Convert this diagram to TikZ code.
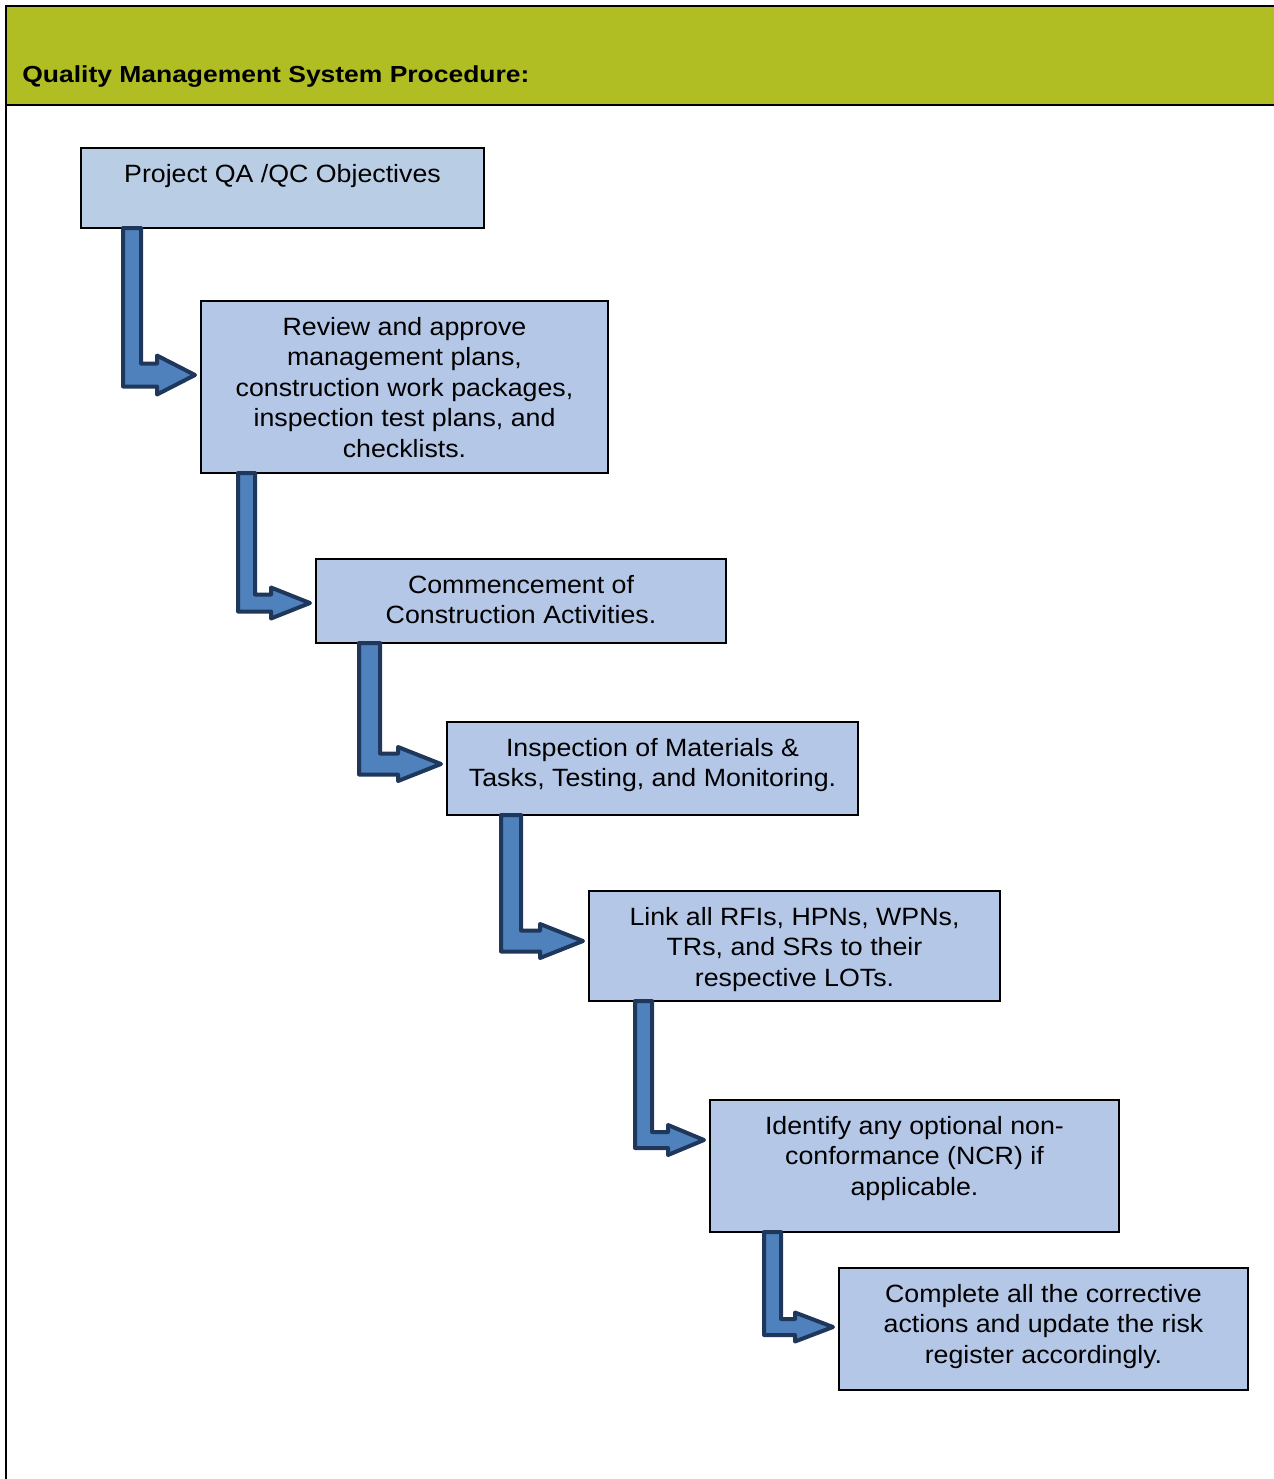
\documentclass[tikz,border=0pt]{standalone}
\usepackage{fontspec}
\setmainfont{Liberation Sans}
\newfontfamily\bodyfont[FakeStretch=1.07]{Liberation Sans}
\newfontfamily\headfont[FakeStretch=1.14]{Liberation Sans}
\usetikzlibrary{calc}

\definecolor{headergreen}{RGB}{176,189,35}
\definecolor{boxblue}{RGB}{180,199,231}
\definecolor{boxblueA}{RGB}{185,205,228}
\definecolor{arrowfill}{RGB}{79,129,189}
\definecolor{arrowedge}{RGB}{30,55,90}

% box text: width, height, lines (top aligned, centred)
\newcommand\steptext[3]{%
  \parbox[t][#2][t]{#1}{\centering\bodyfont\fontsize{12.5pt}{15.25pt}\selectfont
    \rule{0pt}{17pt}#3}}

% bent block arrow from the bottom of one box to the left side of the next
% #1 source, #2 target, #3 shaft offset, #4 tip y offset,
% #5 shaft width, #6 half width of the horizontal leg, #7 half head, #8 head length
\newcommand\flowstep[8]{%
  \coordinate (#1-#2-s) at ($(#1.south west)+(#3,0)$);
  \coordinate (#1-#2-t) at ($(#2.west)+(-6,#4)$);
  \draw[flowarrow] let \p1=(#1-#2-s), \p2=(#1-#2-t) in
    (\x1,\y1) -- (\x1+#5*0.5pt,\y1) -- (\x1+#5*0.5pt,\y2+#6*0.5pt)
    -- (\x2-#8*0.5pt,\y2+#6*0.5pt) -- (\x2-#8*0.5pt,\y2+#7*0.5pt)
    -- (\x2,\y2)
    -- (\x2-#8*0.5pt,\y2-#7*0.5pt) -- (\x2-#8*0.5pt,\y2-#6*0.5pt)
    -- (\x1,\y2-#6*0.5pt) -- cycle;}

\begin{document}
\begin{tikzpicture}[x=0.5pt,y=-0.5pt,
  stepbox/.style={draw=black, line width=1pt, fill=boxblue, inner sep=0pt,
    outer sep=0pt, anchor=north west},
  flowarrow/.style={fill=arrowfill, draw=arrowedge, line width=2pt, line join=round}]
\useasboundingbox (0,0) rectangle (1274,1479);

% header band and frame
\fill[headergreen] (7,7) rectangle (1274,104);
\draw[line width=1.2pt] (6,1479) -- (6,6) -- (1274,6);
\draw[line width=1.3pt] (6,105) -- (1274,105);
\node[anchor=base west, inner sep=0pt, font=\headfont\bfseries\fontsize{11.6pt}{14pt}\selectfont]
  (title) at (22,82) {Quality Management System Procedure:};

% process steps
\node[stepbox, fill=boxblueA] (b1) at (81,148)
  {\steptext{201.5pt}{40pt}{Project QA /QC Objectives}};
\node[stepbox] (b2) at (201,301)
  {\steptext{203.5pt}{86pt}{Review and approve\\ management plans,\\ construction work packages,\\ inspection test plans, and\\ checklists.}};
\node[stepbox] (b3) at (316,559)
  {\steptext{205pt}{42pt}{Commencement of\\ Construction Activities.}};
\node[stepbox] (b4) at (447,722)
  {\steptext{205.5pt}{46.5pt}{Inspection of Materials \&\\ Tasks, Testing, and Monitoring.}};
\node[stepbox] (b5) at (589,891)
  {\steptext{205.5pt}{55pt}{Link all RFIs, HPNs, WPNs,\\ TRs, and SRs to their\\ respective LOTs.}};
\node[stepbox] (b6) at (710,1100)
  {\steptext{204.5pt}{66pt}{Identify any optional non-\\ conformance (NCR) if\\ applicable.}};
\node[stepbox] (b7) at (839,1268)
  {\steptext{204.5pt}{61pt}{Complete all the corrective\\ actions and update the risk\\ register accordingly.}};

% connecting arrows
\flowstep{b1}{b2}{42}{-12}{18}{11.5}{19.5}{38}
\flowstep{b2}{b3}{37}{2}{17}{8.5}{15.5}{39}
\flowstep{b3}{b4}{43}{-4.5}{21}{10.5}{17}{43}
\flowstep{b4}{b5}{54}{-5}{20}{10.5}{17}{43}
\flowstep{b5}{b6}{46}{-26}{17}{8}{15}{36}
\flowstep{b6}{b7}{54}{-2}{17}{8}{14.5}{38}
\end{tikzpicture}
\end{document}
